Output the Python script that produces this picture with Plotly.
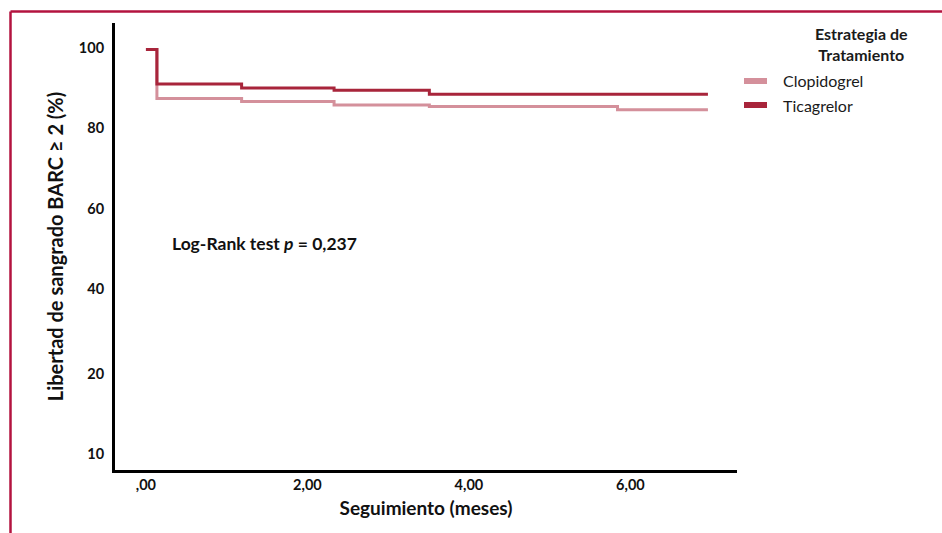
import plotly.graph_objects as go

# Kaplan-Meier survival steps (time in months, event-free %)
ticagrelor_t = [0.0, 0.136, 1.185, 2.33, 3.51, 6.96]
ticagrelor_s = [99.6, 91.0, 90.0, 89.5, 88.5, 88.5]
clopidogrel_t = [0.0, 0.136, 1.185, 2.33, 3.51, 5.84, 6.96]
clopidogrel_s = [99.6, 87.4, 86.7, 85.8, 85.4, 84.6, 84.6]

groups = ["Clopidogrel", "Ticagrelor"]
colors = {"Clopidogrel": "#D4909B", "Ticagrelor": "#A8253B"}

x_ticks = [0, 2, 4, 6]
x_ticktext = [",00", "2,00", "4,00", "6,00"]
y_tick_pos = [100, 80, 60, 40, 19, -1]
y_ticktext = ["100", "80", "60", "40", "20", "10"]

FONT = "Lato"
BORDER = "#B3133F"

W, H = 942, 533
L, R, T, B = 115, 737, 23, 470  # plot area in pixels


def px_x(px):
    return (px - L) / (R - L)


def px_y(py):
    return (B - py) / (B - T)


fig = go.Figure()
fig.add_trace(go.Scatter(x=clopidogrel_t, y=clopidogrel_s, mode="lines",
                         line=dict(color=colors["Clopidogrel"], width=3, shape="hv"),
                         name="Clopidogrel", showlegend=False))
fig.add_trace(go.Scatter(x=ticagrelor_t, y=ticagrelor_s, mode="lines",
                         line=dict(color=colors["Ticagrelor"], width=3, shape="hv"),
                         name="Ticagrelor", showlegend=False))

shapes = []
annotations = []

# Legend block
annotations.append(dict(xref="paper", yref="paper", x=px_x(910), y=px_y(44),
                        xanchor="right", yanchor="middle", align="center",
                        text="<b>Estrategia de<br>Tratamiento</b>", showarrow=False,
                        font=dict(family=FONT, size=16, color="#1a1a1a")))
for i, g in enumerate(groups):
    yc = 81 + i * 24
    shapes.append(dict(type="line", xref="paper", yref="paper",
                       x0=px_x(744), x1=px_x(767), y0=px_y(yc), y1=px_y(yc),
                       line=dict(color=colors[g], width=6)))
    annotations.append(dict(xref="paper", yref="paper", x=px_x(781), y=px_y(yc),
                            xanchor="left", yanchor="middle", text=g, showarrow=False,
                            font=dict(family=FONT, size=16, color="#1a1a1a")))

# Log-rank annotation
annotations.append(dict(xref="paper", yref="paper", x=px_x(170), y=px_y(243),
                        xanchor="left", yanchor="middle",
                        text="<b>Log-Rank test <i>p</i> = 0,237</b>", showarrow=False,
                        font=dict(family=FONT, size=17.5, color="#111111")))

# Frame around the figure
shapes.append(dict(type="line", xref="paper", yref="paper",
                   x0=px_x(10.5), x1=px_x(W + 5), y0=px_y(11.5), y1=px_y(11.5),
                   line=dict(color=BORDER, width=2.5)))
shapes.append(dict(type="line", xref="paper", yref="paper",
                   x0=px_x(10.5), x1=px_x(10.5), y0=px_y(11.5), y1=px_y(H + 5),
                   line=dict(color=BORDER, width=2.5)))

fig.update_layout(
    width=W, height=H,
    margin=dict(l=L, r=W - R, t=T, b=H - B),
    paper_bgcolor="white", plot_bgcolor="white",
    showlegend=False,
    shapes=shapes, annotations=annotations,
    font=dict(family=FONT, color="#111111"),
)
tickfont = dict(family=FONT, size=14.5, color="#111111", weight="bold")
fig.update_xaxes(range=[-0.383, 7.32], tickvals=x_ticks, ticktext=x_ticktext,
                 showgrid=False, zeroline=False, showline=True, linecolor="black",
                 linewidth=3, ticks="", tickfont=tickfont,
                 title=dict(text="<b>Seguimiento (meses)</b>", standoff=10,
                            font=dict(family=FONT, size=19, color="#111111")))
fig.update_yaxes(range=[-5.0, 106.2], tickvals=y_tick_pos, ticktext=y_ticktext,
                 showgrid=False, zeroline=False, showline=True, linecolor="black",
                 linewidth=3, ticks="", tickfont=tickfont,
                 ticklabelstandoff=5,
                 title=dict(text="<b>Libertad de sangrado BARC \u2265 2 (%)</b>", standoff=10,
                            font=dict(family=FONT, size=20, color="#111111")))

fig.write_html("out.html")
